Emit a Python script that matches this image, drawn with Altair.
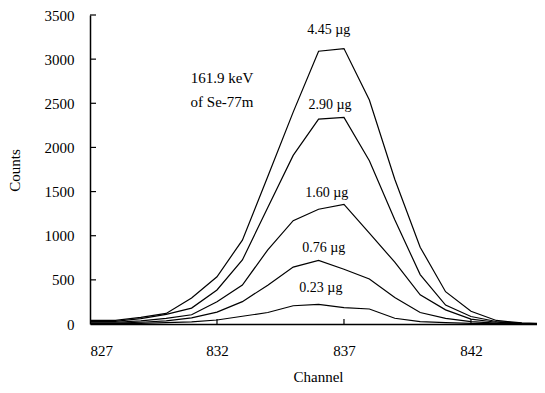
import altair as alt
import pandas as pd

channels = list(range(827, 846))
s445 = [40, 40, 75, 120, 295, 535, 950, 1670, 2400, 3090, 3120, 2537, 1640, 870, 366, 145, 40, 12, 3]
s290 = [30, 30, 60, 110, 180, 385, 725, 1320, 1910, 2320, 2340, 1850, 1180, 560, 215, 85, 28, 8, 2]
s160 = [20, 20, 35, 64, 105, 253, 442, 840, 1170, 1300, 1355, 1030, 700, 330, 160, 55, 20, 6, 2]
s076 = [10, 10, 20, 35, 70, 135, 253, 440, 645, 720, 620, 510, 300, 130, 64, 26, 10, 4, 1]
s023 = [5, 5, 8, 15, 25, 45, 88, 130, 207, 222, 185, 170, 65, 26, 15, 8, 4, 2, 1]

series_names = ["4.45 µg", "2.90 µg", "1.60 µg", "0.76 µg", "0.23 µg"]
series_values = [s445, s290, s160, s076, s023]

label_x = [836.4, 836.45, 836.32, 836.2, 836.09]
label_y = [3330, 2480, 1480, 857, 404]

note_lines = ["161.9 keV", "of Se-77m"]
note_x = [832.2, 832.2]
note_y = [2782, 2518]

x_ticks = [827, 832, 837, 842]
y_ticks = [0, 500, 1000, 1500, 2000, 2500, 3000, 3500]

W, H = 447, 309
FONT = "Liberation Serif"

rows = []
for name, vals in zip(series_names, series_values):
    for c, v in zip(channels, vals):
        rows.append({"channel": c, "counts": v, "series": name})
df = pd.DataFrame(rows)

xscale = alt.Scale(domain=[827, 844.6], nice=False, zero=False)
yscale = alt.Scale(domain=[0, 3500], nice=False)

lines = alt.Chart(df).mark_line(color="black", strokeWidth=1.2, clip=True).encode(
    x=alt.X("channel:Q", scale=xscale,
            axis=alt.Axis(values=x_ticks, format="d", title="Channel", ticks=False,
                          labelPadding=19, titleX=228, titleY=52, titleBaseline="middle",
                          titleAlign="center")),
    y=alt.Y("counts:Q", scale=yscale,
            axis=alt.Axis(values=y_ticks, format="d", title="Counts", ticks=False,
                          labelPadding=16, titleX=-76, titleY=155, titleBaseline="middle",
                          titleAlign="center", titleAngle=-90)),
    detail="series:N",
)

xt = alt.Chart(pd.DataFrame({"channel": x_ticks[1:]})).mark_rule(color="black", strokeWidth=1.2).encode(
    x="channel:Q", y=alt.value(H), y2=alt.value(H - 5)
)
yt = alt.Chart(pd.DataFrame({"counts": y_ticks[1:]})).mark_rule(color="black", strokeWidth=1.2).encode(
    y="counts:Q", x=alt.value(0), x2=alt.value(6)
)

labels = alt.Chart(pd.DataFrame({"channel": label_x, "counts": label_y, "label": series_names})).mark_text(
    font=FONT, fontSize=14, color="black"
).encode(x="channel:Q", y="counts:Q", text="label:N")

notes = alt.Chart(pd.DataFrame({"channel": note_x, "counts": note_y, "label": note_lines})).mark_text(
    font=FONT, fontSize=15, color="black"
).encode(x="channel:Q", y="counts:Q", text="label:N")

chart = alt.layer(lines, xt, yt, labels, notes).properties(
    width=W, height=H,
    autosize=alt.AutoSizeParams(type="none"),
    padding={"left": 82, "top": 7, "right": 0, "bottom": 61},
    background="white",
).configure_view(stroke=None).configure_axis(
    domainColor="black", domainWidth=1.5, grid=False,
    labelFont=FONT, labelFontSize=15, labelColor="black",
    titleFont=FONT, titleFontSize=15, titleColor="black", titleFontWeight="normal",
)

chart.save("out.html", embed_options={"renderer": "svg", "actions": False})
